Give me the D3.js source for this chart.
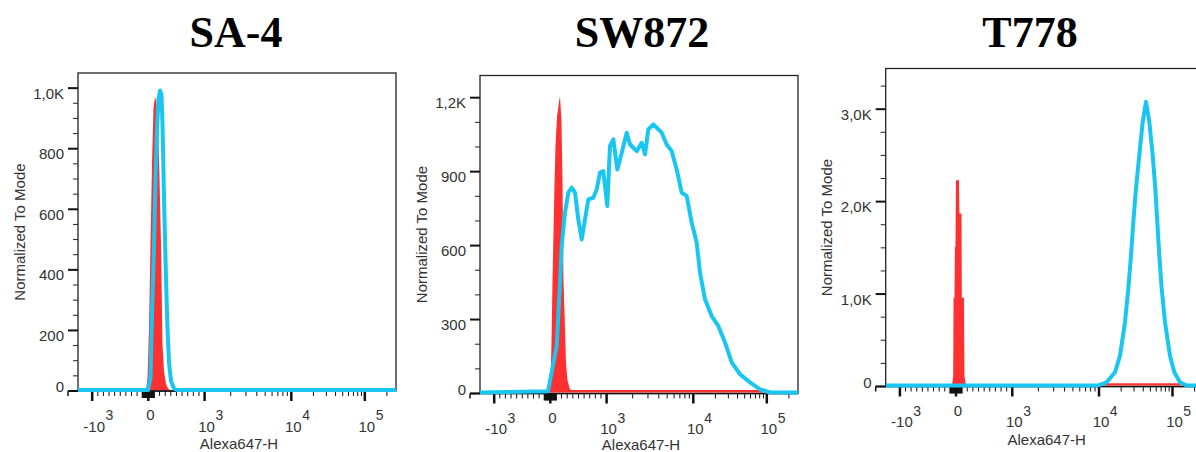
<!DOCTYPE html>
<html>
<head>
<meta charset="utf-8">
<script src="https://cdn.jsdelivr.net/npm/d3@7"></script>
<style>
  body { margin: 0; background: #fff; }
  svg { display: block; }
  text { font-family: "Liberation Sans", Arial, sans-serif; fill: #222; }
</style>
</head>
<body>
<svg id="chart" width="1196" height="452"></svg>
<script>
// ---- data ----
const titles = ["SA-4", "SW872", "T778"];

const xTickValues = [-1000, 0, 1000, 10000, 100000];
const xTickBase = ["-10", "0", "10", "10", "10"];
const xTickSup = ["3", "", "3", "4", "5"];

const yMaxes = [1050, 1290, 3440];
const yTicks = [
  [0, 200, 400, 600, 800, 1000],
  [0, 300, 600, 900, 1200],
  [0, 1000, 2000, 3000]
];
const yTickLabels = [
  ["0", "200", "400", "600", "800", "1,0K"],
  ["0", "300", "600", "900", "1,2K"],
  ["0", "1,0K", "2,0K", "3,0K"]
];
const yMinorSteps = [50, 100, 250];

// [Alexa647-H value, count]  -- red = control (filled), blue = stained (line)
const sa4Control = [[-41,0],[-14,40],[12,200],[39,480],[66,750],[92,930],[119,968],[146,950],[172,880],[199,700],[226,480],[252,150],[279,60],[314,20],[350,5],[385,0]];
const sa4Stained = [[-5,0],[39,40],[66,250],[101,470],[128,700],[155,860],[181,960],[208,989],[234,975],[252,880],[270,720],[288,560],[314,370],[341,200],[368,90],[403,30],[456,5],[510,0]];

const sw872Control = [[-23,0],[4,50],[21,200],[39,450],[57,650],[75,850],[92,1000],[119,1120],[155,1180],[172,1202],[199,1100],[217,850],[234,460],[252,330],[279,120],[305,50],[350,12],[385,10],[94500,10],[110500,0]];
const sw872Stained = [[-41,5],[114,189],[160,392],[202,594],[231,662],[261,730],[320,811],[380,831],[439,811],[497,702],[558,621],[616,702],[675,783],[764,790],[824,824],[883,892],[941,898],[1019,756],[1094,1000],[1195,1027],[1329,905],[1494,973],[1705,1054],[1862,1006],[2224,979],[2540,1013],[2774,966],[3027,1067],[3456,1088],[4320,1054],[4934,1006],[5636,979],[6435,905],[7349,811],[8393,797],[9583,689],[11125,608],[12340,486],[14430,378],[17800,310],[21890,270],[26990,203],[33300,122],[43190,74],[59070,41],[80830,13],[104800,2],[120000,0]];

const t778Control = [[-71,0],[-50,100],[-44,950],[-27,950],[-20,1500],[-9,1500],[-2,2219],[53,2219],[60,1860],[98,1860],[104,950],[142,950],[150,100],[178,0],[11000,0],[12000,25],[126000,25],[131000,0]];
const t778Stained = [[9739,0],[12730,35],[16510,143],[19310,323],[22580,685],[25030,1045],[27250,1406],[29290,1768],[31870,2129],[35340,2490],[39310,2852],[43610,3068],[48350,2852],[53780,2490],[58340,2129],[62130,1768],[66130,1406],[71290,1045],[79070,685],[92470,323],[105800,143],[126500,35],[156100,0]];

const controls = [sa4Control, sw872Control, t778Control];
const stained = [sa4Stained, sw872Stained, t778Stained];

// ---- layout ----
const svg = d3.select("#chart");
const size = 318;
const frames = [{left: 78, top: 73}, {left: 480, top: 75.5}, {left: 885.7, top: 68.5}];
const titleX = [236, 642, 1030];
const RED = "#ff3030", BLUE = "#19c6f2";

// biexponential-like display: linear inside +-1000, log outside
function tf(v) {
  const a = Math.abs(v);
  return a <= 1000 ? v / 1000 : Math.sign(v) * (1 + Math.log10(a / 1000));
}
function tfInv(t) {
  const a = Math.abs(t);
  return a <= 1 ? t * 1000 : Math.sign(t) * 1000 * Math.pow(10, a - 1);
}
const tScale = d3.scaleLinear().domain([-1, 0, 1, 2, 3]).range([14.2, 70.3, 126.6, 213.3, 286.8]);
const xLo = tfInv(tScale.invert(0)), xHi = tfInv(tScale.invert(size));

const xMinor = [].concat(
  d3.range(-900, -100, 100),
  [-100, -75, -50, -25, 25, 50, 75, 100],
  d3.range(200, 1000, 100),
  d3.range(2000, 10000, 1000),
  d3.range(20000, 100000, 10000),
  [200000]
);

titles.forEach((title, i) => {
  const f = frames[i];
  const g = svg.append("g").attr("transform", `translate(${f.left},${f.top})`);
  const x = v => tScale(tf(v));
  const y = d3.scaleLinear().domain([0, yMaxes[i]]).range([size, 0]);

  // title
  svg.append("text")
    .attr("x", titleX[i]).attr("y", 47)
    .attr("text-anchor", "middle")
    .style("font-family", "'Liberation Serif', 'Times New Roman', serif")
    .style("font-weight", "bold").style("font-size", "44px").style("fill", "#000")
    .text(title);

  // frame
  g.append("rect").attr("width", size).attr("height", size)
    .attr("fill", "none").attr("stroke", "#222").attr("stroke-width", 1.3);

  // y axis ticks
  const yMinor = d3.range(0, yMaxes[i], yMinorSteps[i]).filter(v => !yTicks[i].includes(v));
  g.selectAll(".ymin").data(yMinor).enter().append("line")
    .attr("x1", -5).attr("x2", 0).attr("y1", d => y(d)).attr("y2", d => y(d))
    .attr("stroke", "#222").attr("stroke-width", 1);
  g.selectAll(".ymaj").data(yTicks[i]).enter().append("line")
    .attr("x1", -10).attr("x2", 0).attr("y1", d => y(d)).attr("y2", d => y(d))
    .attr("stroke", "#111").attr("stroke-width", 2);
  g.selectAll(".ylab").data(yTicks[i]).enter().append("text")
    .attr("x", -14)
    .attr("y", d => d === 0 ? y(d) + 1 : y(d) + 10.5)
    .attr("text-anchor", "end").style("font-size", "15px").style("fill", "#333")
    .text((d, j) => yTickLabels[i][j]);
  g.append("text")
    .attr("transform", `translate(-59,${size / 2}) rotate(-90)`)
    .attr("text-anchor", "middle").attr("dominant-baseline", "central")
    .style("font-size", "15px").style("fill", "#333")
    .text("Normalized To Mode");

  // x axis
  g.append("line").attr("x1", -10).attr("x2", size).attr("y1", size).attr("y2", size)
    .attr("stroke", "#111").attr("stroke-width", 1.5);
  g.append("line").attr("x1", -10).attr("x2", -10).attr("y1", size).attr("y2", size + 5)
    .attr("stroke", "#111").attr("stroke-width", 1.5);
  g.selectAll(".xmin").data(xMinor).enter().append("line")
    .attr("x1", d => x(d)).attr("x2", d => x(d))
    .attr("y1", size).attr("y2", d => Math.abs(d) <= 100 ? size + 7 : size + 5)
    .attr("stroke", "#111").attr("stroke-width", d => Math.abs(d) <= 100 ? 2 : 1);
  g.selectAll(".xmaj").data(xTickValues).enter().append("line")
    .attr("x1", d => x(d)).attr("x2", d => x(d))
    .attr("y1", size).attr("y2", size + 10)
    .attr("stroke", "#111").attr("stroke-width", 2.5);

  xTickValues.forEach((v, j) => {
    const cx = x(v) + 2;
    if (xTickSup[j] === "") {
      g.append("text").attr("x", cx).attr("y", size + 29)
        .attr("text-anchor", "middle").style("font-size", "15px").style("fill", "#333")
        .text(xTickBase[j]);
      return;
    }
    const base = g.append("text").attr("x", cx).attr("y", size + 40.5)
      .attr("text-anchor", "middle").style("font-size", "15px").style("fill", "#333")
      .text(xTickBase[j]);
    const w = base.node().getComputedTextLength();
    g.append("text").attr("x", cx + w / 2 + 0.5).attr("y", size + 29)
      .style("font-size", "14px").style("fill", "#333")
      .text(xTickSup[j]);
  });

  // keep the axis title inside the picture
  g.append("text").attr("x", size / 2 + 2).attr("y", Math.min(size + 58, 450 - f.top))
    .attr("text-anchor", "middle").style("font-size", "15px").style("fill", "#333")
    .text("Alexa647-H");

  // data
  const clipId = "clip" + i;
  g.append("clipPath").attr("id", clipId).append("rect")
    .attr("x", 0).attr("y", -2).attr("width", size).attr("height", size + 4);
  const plot = g.append("g").attr("clip-path", `url(#${clipId})`);

  const ctrl = [[xLo, 0]].concat(controls[i], [[xHi, 0]]);
  const stn = [[xLo, 0]].concat(stained[i], [[xHi, 0]]);

  plot.append("path").datum(ctrl)
    .attr("d", d3.area()
      .x(d => x(d[0])).y0(y(0) - 1).y1(d => y(d[1]) - 1))
    .attr("fill", RED);

  plot.append("path").datum(stn)
    .attr("d", d3.line().x(d => x(d[0])).y(d => y(d[1]) - 1))
    .attr("fill", "none").attr("stroke", BLUE)
    .attr("stroke-width", 4).attr("stroke-linejoin", "round");
});
</script>
</body>
</html>
